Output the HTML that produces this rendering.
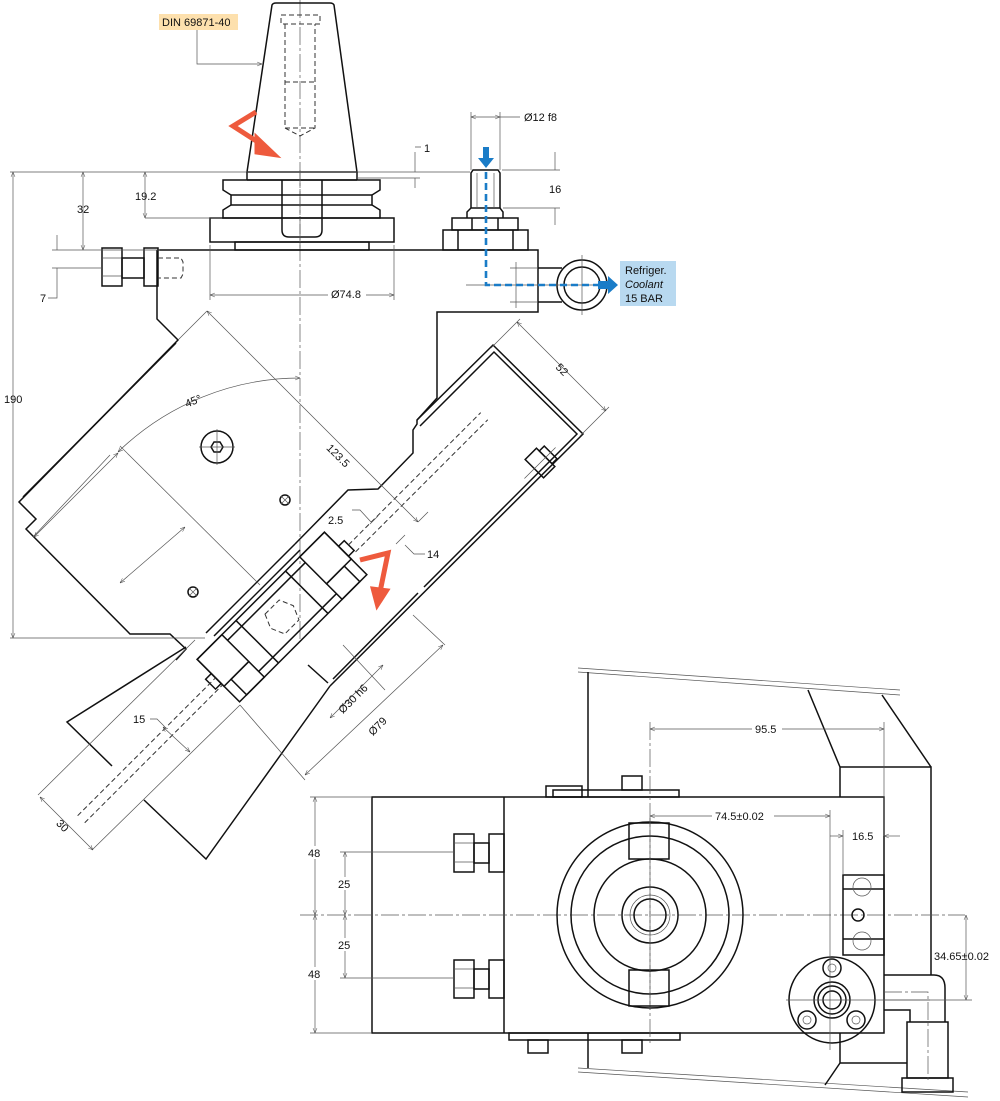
<!DOCTYPE html>
<html><head><meta charset="utf-8"><style>
html,body{margin:0;padding:0;background:#fff}
svg{display:block}
text{font-family:"Liberation Sans",sans-serif;font-size:11px;fill:#111}
.k{stroke:#111;stroke-width:1.5;fill:none}
.t{stroke:#555;stroke-width:0.7;fill:none}
.c{stroke:#555;stroke-width:0.7;fill:none;stroke-dasharray:18 3 3 3}
.h{stroke:#333;stroke-width:1;fill:none;stroke-dasharray:5 3}
</style></head><body>
<svg width="1000" height="1101" viewBox="0 0 1000 1101" xmlns="http://www.w3.org/2000/svg">
<defs>
<marker id="a" viewBox="0 0 10 10" refX="10" refY="5" markerWidth="7" markerHeight="7" orient="auto-start-reverse"><path d="M0,1 L10,5 L0,9" fill="none" stroke="#444" stroke-width="1"/></marker>
</defs>

<line class="c" x1="300" y1="0" x2="300" y2="640"/>

<path class="k" d="M247,172 L272,5 Q273,3 276,3 L330,3 Q333,3 334,5 L357,172 Z"/>
<line class="k" x1="247" y1="180" x2="357" y2="180"/>
<line class="k" x1="247" y1="172" x2="247" y2="180"/><line class="k" x1="357" y1="172" x2="357" y2="180"/>
<rect class="h" x="281" y="15" width="39" height="9"/>
<path class="h" d="M285,24 L285,128 L300,136 L315,128 L315,24 M285,82 L315,82 M285,128 L315,128"/>
<path class="k" d="M223,180 L380,180 L380,190 L372,195 L372,205 L380,210 L380,218 L223,218 L223,210 L231,205 L231,195 L223,190 Z"/>
<line class="k" x1="231" y1="195" x2="372" y2="195"/><line class="k" x1="231" y1="205" x2="372" y2="205"/>
<rect class="k" x="210" y="218" width="184" height="24"/>
<rect class="k" x="235" y="242" width="134" height="8"/>
<path class="k" d="M282,180 L282,230 Q282,237 289,237 L315,237 Q322,237 322,230 L322,180" fill="#fff"/>
<line class="c" x1="300" y1="170" x2="300" y2="250"/>

<path class="k" d="M157,250 L538,250 L538,312 L437,312 L437,398 L417,420 L417,424 L413,430 L413,453 L378,489 L348,490 L295,544"/>
<path class="k" d="M157,250 L157,319 L178,340 L19,502 L36,519 L26,529 L130,634 L170,634 L186,649 L176,660"/>
<line class="k" x1="176" y1="343" x2="23" y2="497"/>
<rect class="k" x="102" y="248" width="20" height="38"/>
<line class="t" x1="102" y1="258" x2="122" y2="258"/><line class="t" x1="102" y1="276" x2="122" y2="276"/>
<rect class="k" x="122" y="258" width="22" height="20"/>
<rect class="k" x="144" y="248" width="14" height="38"/>
<path class="h" d="M158,258 L181,258 L183,262 L183,274 L181,278 L158,278"/>
<rect class="k" x="443" y="230" width="85" height="20"/>
<line class="k" x1="458" y1="230" x2="458" y2="250"/><line class="k" x1="513" y1="230" x2="513" y2="250"/>
<rect class="k" x="452" y="218" width="66" height="12"/>
<line class="k" x1="472" y1="218" x2="472" y2="230"/><line class="k" x1="498" y1="218" x2="498" y2="230"/>
<path class="k" d="M467,218 L467,212 L471,208 L500,208 L503,212 L503,218"/>
<path class="k" d="M471,208 L471,173 L473,170 L498,170 L500,173 L500,208"/>
<line class="t" x1="477" y1="173" x2="477" y2="208"/><line class="t" x1="494" y1="173" x2="494" y2="208"/>
<line class="k" x1="538" y1="268" x2="562" y2="268"/><line class="k" x1="538" y1="302" x2="562" y2="302"/>
<circle class="k" cx="582" cy="285" r="25" fill="#fff"/><circle class="k" cx="582" cy="285" r="18"/>
<line class="t" x1="582" y1="255" x2="582" y2="315"/><line class="t" x1="466" y1="285" x2="612" y2="285"/>
<path class="t" d="M510,268 L538,268 M510,302 L538,302 M516,262 L516,308"/>

<path d="M486,172 L486,285 L606,285" stroke="#1a7cc7" stroke-width="2.6" fill="none" stroke-dasharray="7 4"/>
<path d="M483,147 L489,147 L489,158 L494,158 L486,168 L478,158 L483,158 Z" fill="#1a7cc7"/>
<path d="M598,281 L608,281 L608,276 L618,285 L608,294 L608,289 L598,289 Z" fill="#1a7cc7"/>
<rect x="620" y="261" width="56" height="45" fill="#b8d9f0"/>
<text x="625" y="274">Refriger.</text>
<text x="625" y="288" font-style="italic">Coolant</text>
<text x="625" y="302">15 BAR</text>

<rect x="159" y="14" width="79" height="16" fill="#fde0ad"/>
<text x="162" y="26">DIN 69871-40</text>
<path class="t" d="M197,30 L197,64 L262,64" marker-end="url(#a)"/>

<path d="M256,112 L233,126 L264,146" stroke="#ee5a3d" stroke-width="5" fill="none"/>
<path d="M256,136 L277,156 L256,153 Z" fill="#ee5a3d" stroke="#ee5a3d" stroke-width="3"/>

<path class="k" d="M417,420 L493,345 L583,434 L330,686"/>
<path class="k" d="M420,426 L494,352 L577,434 L424,587 M418,593 L333,679"/>
<g transform="translate(540,463) rotate(45)"><rect class="k" x="-13" y="-8" width="26" height="16" fill="#fff"/><rect class="k" x="-9" y="-15" width="18" height="7"/><line class="t" x1="0" y1="-22" x2="0" y2="22"/></g>
<line class="k" x1="295" y1="544" x2="206" y2="633"/>
<line class="k" x1="300" y1="550" x2="214" y2="636"/>
<path class="k" d="M186,647 L67,722 L112,766"/>
<path class="k" d="M144,800 L206,859 L330,686"/>
<line class="k" x1="308" y1="665" x2="328" y2="683"/>

<g transform="translate(282,617) rotate(-45)">
<rect class="k" x="-90" y="-30" width="180" height="60" fill="#fff"/>
<rect class="k" x="55" y="-30" width="35" height="38"/>
<rect class="k" x="55" y="8" width="25" height="22"/>
<rect class="k" x="-90" y="-30" width="35" height="38"/>
<rect class="k" x="-80" y="8" width="25" height="22"/>
<line class="k" x1="-55" y1="-22" x2="55" y2="-22"/>
<line class="k" x1="-55" y1="22" x2="55" y2="22"/>
<line class="k" x1="35" y1="-30" x2="35" y2="30"/><line class="k" x1="-35" y1="-30" x2="-35" y2="30"/>
<rect class="k" x="90" y="-10" width="8" height="14"/><rect class="k" x="-98" y="-10" width="8" height="14"/>
<path class="h" d="M-10,-14 L10,-14 L16,0 L10,14 L-10,14 L-16,0 Z"/>
<line class="h" x1="-285" y1="-4" x2="-90" y2="-4"/>
<line class="h" x1="-285" y1="6" x2="-90" y2="6"/>
<line class="h" x1="98" y1="-4" x2="285" y2="-4"/>
<line class="h" x1="98" y1="6" x2="285" y2="6"/>
</g>
<path d="M360,560 L388,553 L380,592" stroke="#ee5a3d" stroke-width="5" fill="none"/>
<path d="M372,588 L388,590 L377,607 Z" fill="#ee5a3d" stroke="#ee5a3d" stroke-width="3"/>

<circle class="k" cx="217" cy="447" r="16"/><path class="k" d="M211,447 L214,442 L220,442 L223,447 L220,452 L214,452 Z"/>
<line class="t" x1="199" y1="447" x2="235" y2="447"/><line class="t" x1="217" y1="429" x2="217" y2="465"/>
<circle class="k" cx="285" cy="500" r="5"/><path class="t" d="M281,496 L289,504 M289,496 L281,504"/>
<circle class="k" cx="193" cy="592" r="5"/><path class="t" d="M189,588 L197,596 M197,588 L189,596"/>

<path class="t" d="M300,378 A262,262 0 0 0 118,452" marker-start="url(#a)" marker-end="url(#a)"/>
<text x="185" y="406" transform="rotate(-22 190 402)">45°</text>
<line class="t" x1="178" y1="340" x2="207" y2="311"/>
<line class="t" x1="207" y1="311" x2="418" y2="522" marker-start="url(#a)" marker-end="url(#a)"/>
<text x="326" y="452" transform="rotate(45 330 450)">123.5</text>
<line class="t" x1="418" y1="522" x2="428" y2="512"/>
<line class="t" x1="491" y1="348" x2="520" y2="319"/><line class="t" x1="580" y1="436" x2="609" y2="407"/>
<line class="t" x1="517" y1="322" x2="606" y2="411" marker-start="url(#a)" marker-end="url(#a)"/>
<text x="555" y="372" transform="rotate(45 560 370)">52</text>
<line class="t" x1="370" y1="524" x2="378" y2="516"/>
<line class="t" x1="396" y1="544" x2="405" y2="535"/>
<path class="t" d="M352,510 L360,510 L371,522"/>
<text x="328" y="524">2.5</text>
<path class="t" d="M405,545 L414,554 L425,554"/>
<text x="427" y="558">14</text>
<line class="t" x1="110" y1="455" x2="33" y2="537"/>
<line class="t" x1="120" y1="446" x2="260" y2="585"/>
<line class="t" x1="120" y1="583" x2="185" y2="527" marker-start="url(#a)" marker-end="url(#a)"/>
<line class="t" x1="34" y1="537" x2="118" y2="453" marker-start="url(#a)" marker-end="url(#a)"/>
<line class="t" x1="343" y1="645" x2="385" y2="690"/>
<line class="t" x1="330" y1="718" x2="383" y2="665" marker-start="url(#a)" marker-end="url(#a)"/>
<text x="335" y="705" transform="rotate(-45 350 700)">Ø30 h6</text>
<line class="t" x1="413" y1="615" x2="445" y2="645"/>
<line class="t" x1="240" y1="705" x2="305" y2="780"/>
<line class="t" x1="305" y1="775" x2="443" y2="645" marker-start="url(#a)" marker-end="url(#a)"/>
<text x="362" y="730" transform="rotate(-45 375 720)">Ø79</text>
<line class="t" x1="38" y1="795" x2="195" y2="640"/>
<line class="t" x1="92" y1="850" x2="240" y2="705"/>
<line class="t" x1="40" y1="797" x2="93" y2="850" marker-start="url(#a)" marker-end="url(#a)"/>
<text x="58" y="830" transform="rotate(45 64 824)">30</text>
<line class="t" x1="163" y1="727" x2="190" y2="752" marker-start="url(#a)" marker-end="url(#a)"/>
<path class="t" d="M150,719 L157,719 L165,727"/>
<text x="133" y="723">15</text>

<line class="t" x1="10" y1="172" x2="470" y2="172"/>
<line class="t" x1="10" y1="638" x2="205" y2="638"/>
<line class="t" x1="13" y1="172" x2="13" y2="638" marker-start="url(#a)" marker-end="url(#a)"/>
<text x="4" y="403">190</text>
<line class="t" x1="83" y1="172" x2="83" y2="250" marker-start="url(#a)" marker-end="url(#a)"/>
<text x="77" y="213">32</text>
<line class="t" x1="52" y1="250" x2="160" y2="250"/>
<line class="t" x1="52" y1="268" x2="102" y2="268"/>
<line class="t" x1="145" y1="172" x2="145" y2="218" marker-start="url(#a)" marker-end="url(#a)"/>
<line class="t" x1="145" y1="218" x2="222" y2="218"/>
<text x="135" y="200">19.2</text>
<path class="t" d="M57,235 L57,250 M57,268 L57,298 L48,298"/>
<text x="40" y="302">7</text>
<line class="t" x1="210" y1="245" x2="210" y2="300"/><line class="t" x1="394" y1="245" x2="394" y2="300"/>
<line class="t" x1="210" y1="295" x2="394" y2="295" marker-start="url(#a)" marker-end="url(#a)"/>
<rect x="328" y="288" width="38" height="12" fill="#fff"/><text x="331" y="298">Ø74.8</text>
<path class="t" d="M415,152 L415,172 M415,178 L415,188 M415,147 L421,147"/>
<line class="t" x1="357" y1="178" x2="420" y2="178"/>
<text x="424" y="152">1</text>
<line class="t" x1="471" y1="112" x2="471" y2="170"/><line class="t" x1="500" y1="112" x2="500" y2="170"/>
<line class="t" x1="471" y1="117" x2="500" y2="117" marker-start="url(#a)" marker-end="url(#a)"/>
<line class="t" x1="500" y1="117" x2="520" y2="117"/>
<text x="524" y="121">Ø12 f8</text>
<line class="t" x1="502" y1="170" x2="560" y2="170"/><line class="t" x1="503" y1="208" x2="560" y2="208"/>
<path class="t" d="M555,152 L555,170 M555,208 L555,225"/>
<text x="549" y="193">16</text>

<path class="t" d="M578,668 L900,690 M578,672 L900,695"/>
<path class="t" d="M578,1068 L968,1092 M578,1072 L968,1097"/>
<path class="k" d="M588,672 L588,797 M588,1033 L588,1068"/>
<path class="k" d="M808,690 L840,767 L931,767 L931,975 M882,695 L931,767 M840,767 L840,797"/>
<path class="k" d="M840,1033 L840,1063 L907,1063 M840,1063 L825,1085"/>
<rect class="k" x="372" y="797" width="512" height="236" fill="#fff"/>
<line class="k" x1="504" y1="797" x2="504" y2="1033"/>
<rect class="k" x="546" y="786" width="36" height="11"/><rect class="k" x="553" y="790" width="126" height="7"/>
<rect class="k" x="622" y="776" width="20" height="14"/>
<rect class="k" x="509" y="1033" width="171" height="7"/>
<rect class="k" x="528" y="1040" width="20" height="13"/><rect class="k" x="622" y="1040" width="20" height="13"/>
<path class="k" d="M884,975 L934,975 Q945,975 945,988 L945,1022 M884,1010 L910,1010 L910,1022"/>
<rect class="k" x="907" y="1022" width="41" height="56"/>
<rect class="k" x="902" y="1078" width="51" height="14"/>
<path class="c" d="M884,992 L928,992 L928,1080"/>
<line class="c" x1="300" y1="915" x2="965" y2="915"/>
<line class="c" x1="650" y1="722" x2="650" y2="1045"/>
<circle class="k" cx="650" cy="915" r="93"/>
<circle class="k" cx="650" cy="915" r="79"/>
<circle class="k" cx="650" cy="915" r="56"/>
<circle class="k" cx="650" cy="915" r="28"/>
<circle class="t" cx="650" cy="915" r="20"/>
<circle class="k" cx="650" cy="915" r="16"/>
<rect class="k" x="629" y="823" width="40" height="36" fill="#fff"/>
<rect class="k" x="629" y="970" width="40" height="36" fill="#fff"/>
<line class="c" x1="650" y1="818" x2="650" y2="1010"/>
<g id="bolt"><rect class="k" x="454" y="834" width="20" height="38" fill="#fff"/><line class="t" x1="454" y1="843" x2="474" y2="843"/><line class="t" x1="454" y1="862" x2="474" y2="862"/><rect class="k" x="474" y="843" width="15" height="20"/><rect class="k" x="489" y="834" width="15" height="38"/></g>
<use href="#bolt" y="126"/>
<rect class="k" x="843" y="875" width="41" height="80" fill="#fff"/>
<line class="k" x1="843" y1="889" x2="884" y2="889"/><line class="k" x1="843" y1="939" x2="884" y2="939"/>
<circle class="t" cx="862" cy="887" r="9"/><circle class="t" cx="862" cy="941" r="9"/>
<circle class="k" cx="858" cy="915" r="6"/>
<circle class="k" cx="832" cy="1000" r="43" fill="#fff"/>
<circle class="k" cx="832" cy="1000" r="18"/><circle class="k" cx="832" cy="1000" r="14"/><circle class="k" cx="832" cy="1000" r="9"/>
<circle class="k" cx="832" cy="968" r="9"/><circle class="k" cx="807" cy="1020" r="9"/><circle class="k" cx="856" cy="1020" r="9"/>
<circle class="t" cx="832" cy="968" r="4"/><circle class="t" cx="807" cy="1020" r="4"/><circle class="t" cx="856" cy="1020" r="4"/>
<line class="t" x1="786" y1="1000" x2="930" y2="1000"/>
<line class="t" x1="884" y1="722" x2="884" y2="836"/>
<line class="t" x1="650" y1="729" x2="884" y2="729" marker-start="url(#a)" marker-end="url(#a)"/>
<rect x="752" y="722" width="30" height="14" fill="#fff"/><text x="755" y="733">95.5</text>
<line class="t" x1="830" y1="810" x2="830" y2="1050"/>
<line class="t" x1="650" y1="816" x2="830" y2="816" marker-start="url(#a)" marker-end="url(#a)"/>
<rect x="712" y="809" width="62" height="14" fill="#fff"/><text x="715" y="820">74.5±0.02</text>
<line class="t" x1="843" y1="830" x2="843" y2="875"/>
<line class="t" x1="830" y1="836" x2="843" y2="836" marker-end="url(#a)"/>
<line class="t" x1="900" y1="836" x2="884" y2="836" marker-end="url(#a)"/>
<text x="852" y="840">16.5</text>
<line class="t" x1="885" y1="1000" x2="972" y2="1000"/>
<line class="t" x1="966" y1="915" x2="966" y2="1000" marker-start="url(#a)" marker-end="url(#a)"/>
<text x="934" y="960">34.65±0.02</text>
<line class="t" x1="310" y1="797" x2="372" y2="797"/><line class="t" x1="310" y1="1033" x2="372" y2="1033"/>
<line class="t" x1="315" y1="797" x2="315" y2="915" marker-start="url(#a)" marker-end="url(#a)"/>
<line class="t" x1="315" y1="915" x2="315" y2="1033" marker-start="url(#a)" marker-end="url(#a)"/>
<rect x="306" y="846" width="16" height="13" fill="#fff"/><text x="308" y="857">48</text>
<rect x="306" y="967" width="16" height="13" fill="#fff"/><text x="308" y="978">48</text>
<line class="t" x1="340" y1="852" x2="454" y2="852"/><line class="t" x1="340" y1="978" x2="454" y2="978"/>
<line class="t" x1="345" y1="852" x2="345" y2="915" marker-start="url(#a)" marker-end="url(#a)"/>
<line class="t" x1="345" y1="915" x2="345" y2="978" marker-start="url(#a)" marker-end="url(#a)"/>
<rect x="336" y="877" width="16" height="13" fill="#fff"/><text x="338" y="888">25</text>
<rect x="336" y="938" width="16" height="13" fill="#fff"/><text x="338" y="949">25</text>
</svg>
</body></html>
